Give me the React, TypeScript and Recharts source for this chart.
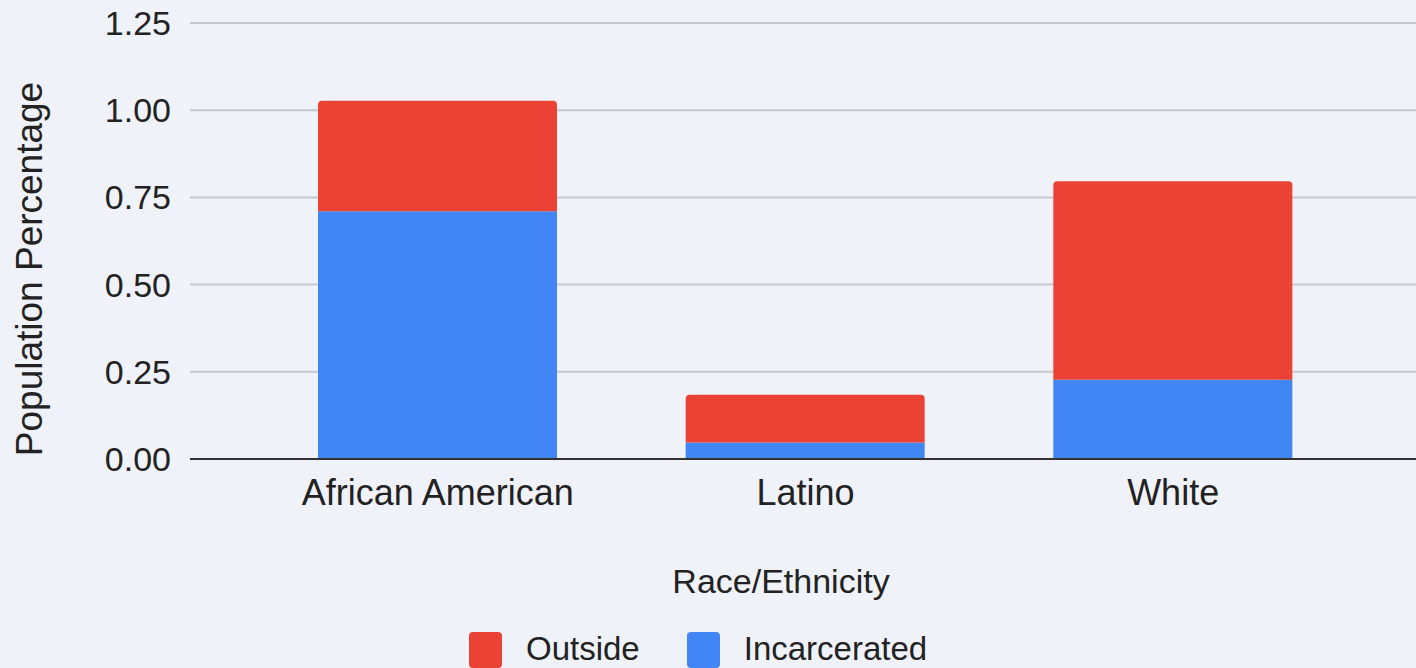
import React from 'react';
import { BarChart, Bar, XAxis, YAxis, CartesianGrid, Label } from 'recharts';

const categories = ['African American', 'Latino', 'White'];
const incarcerated = [0.71, 0.047, 0.227];
const outside = [0.317, 0.137, 0.569];
const yTicks = [0, 0.25, 0.5, 0.75, 1, 1.25];

const seriesNames = { outside: 'Outside', incarcerated: 'Incarcerated' };
const COLORS = { outside: '#ea4335', incarcerated: '#4285f4' };

const data = categories.map((name, i) => ({
  name,
  incarcerated: incarcerated[i],
  outside: outside[i],
}));

const FONT = 'Arial, "Liberation Sans", sans-serif';
const BG = '#eff2f8';

const legendItems: ('outside' | 'incarcerated')[] = ['outside', 'incarcerated'];

export default function App() {
  return (
    <div style={{ position: 'relative', width: 1416, height: 668, background: BG, fontFamily: FONT }}>
      <style>{`body{margin:0;background:${BG};}`}</style>
      <BarChart
        width={1416}
        height={668}
        data={data}
        margin={{ top: 23, right: 0, left: 0, bottom: 149 }}
      >
        <CartesianGrid vertical={false} stroke="#c5c8cd" strokeWidth={2} />
        <XAxis
          dataKey="name"
          height={60}
          padding={{ left: 64, right: 59 }}
          tickLine={false}
          tickSize={0}
          tickMargin={20}
          axisLine={{ stroke: '#333', strokeWidth: 2 }}
          tick={{ fill: '#222', fontSize: 36, fontFamily: FONT }}
        >
          <Label
            value="Race/Ethnicity"
            position="bottom"
            offset={50}
            dx={-22}
            style={{ fill: '#222', fontSize: 34, fontFamily: FONT }}
          />
        </XAxis>
        <YAxis
          width={190}
          domain={[0, 1.25]}
          ticks={yTicks}
          tickFormatter={(v: number) => v.toFixed(2)}
          axisLine={false}
          tickLine={false}
          tickSize={0}
          tickMargin={19}
          tick={{ fill: '#222', fontSize: 34, fontFamily: FONT }}
        >
          <Label
            value="Population Percentage"
            angle={-90}
            position="center"
            dx={-66}
            dy={28}
            style={{ fill: '#222', fontSize: 37, fontFamily: FONT, textAnchor: 'middle' }}
          />
        </YAxis>
        <Bar
          dataKey="incarcerated"
          name={seriesNames.incarcerated}
          stackId="a"
          fill={COLORS.incarcerated}
          barSize={239}
          isAnimationActive={false}
        />
        <Bar
          dataKey="outside"
          name={seriesNames.outside}
          stackId="a"
          fill={COLORS.outside}
          barSize={239}
          radius={[4, 4, 0, 0]}
          isAnimationActive={false}
        />
      </BarChart>
      <div
        style={{
          position: 'absolute',
          left: 469,
          top: 632,
          display: 'flex',
          alignItems: 'flex-start',
          fontSize: 33,
          lineHeight: '33px',
          color: '#222',
        }}
      >
        {legendItems.map((key) => (
          <div key={key} style={{ display: 'flex', alignItems: 'flex-start', marginRight: 47 }}>
            <span
              style={{
                display: 'inline-block',
                width: 33,
                height: 36,
                borderRadius: 4,
                background: COLORS[key],
                marginRight: 24,
              }}
            />
            <span>{seriesNames[key]}</span>
          </div>
        ))}
      </div>
    </div>
  );
}
